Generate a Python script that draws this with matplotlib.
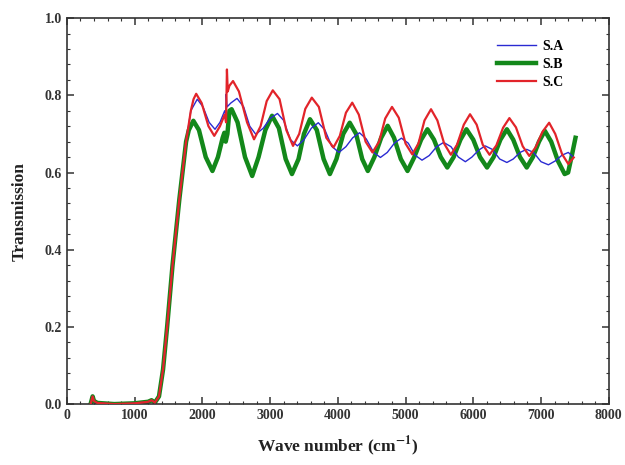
import matplotlib
matplotlib.use('Agg')
import matplotlib.pyplot as plt
from matplotlib.ticker import MultipleLocator

plt.rcParams['font.family'] = 'Liberation Serif'
plt.rcParams['font.weight'] = 'bold'
plt.rcParams['mathtext.fontset'] = 'stix'

## shared baseline + absorption edge (all three samples overlap here)
edge_x = [350, 380, 400, 450, 700, 1000, 1200, 1250, 1300, 1360, 1420, 1480, 1560, 1660, 1760]
edge_y = [0.0, 0.02, 0.008, 0.003, 0.0, 0.002, 0.006, 0.01, 0.004, 0.02, 0.09, 0.2, 0.36, 0.53, 0.68]

## S.A (blue)
sa_x = [1830, 1925, 2010, 2100, 2187, 2260, 2330, 2345, 2352, 2365, 2420, 2512, 2610, 2700, 2789,
        2900, 3000, 3109, 3200, 3300, 3403, 3500, 3610, 3712, 3810, 3910, 4016, 4120, 4220, 4320,
        4420, 4530, 4629, 4730, 4840, 4939, 5040, 5140, 5243, 5350, 5460, 5563, 5670, 5780, 5883,
        5980, 6080, 6176, 6280, 6390, 6496, 6590, 6690, 6789, 6890, 7000, 7109, 7210, 7310, 7403, 7483]
sa_y = [0.76, 0.790, 0.77, 0.73, 0.712, 0.73, 0.76, 0.75, 0.803, 0.77, 0.78, 0.792, 0.77, 0.72, 0.699,
        0.715, 0.74, 0.753, 0.735, 0.685, 0.669, 0.685, 0.715, 0.729, 0.71, 0.668, 0.652, 0.667, 0.69, 0.703,
        0.687, 0.652, 0.639, 0.652, 0.677, 0.689, 0.676, 0.645, 0.632, 0.644, 0.667, 0.678, 0.667, 0.64, 0.628,
        0.64, 0.658, 0.669, 0.66, 0.635, 0.626, 0.635, 0.652, 0.660, 0.652, 0.628, 0.620, 0.63, 0.645, 0.652, 0.639]

## S.B (green)
sb_x = [1800, 1867, 1950, 2050, 2149, 2230, 2300, 2325, 2345, 2370, 2400, 2432, 2520, 2630, 2736,
        2830, 2930, 3029, 3130, 3230, 3323, 3420, 3500, 3589, 3690, 3790, 3883, 3980, 4080, 4176,
        4270, 4360, 4443, 4540, 4640, 4736, 4830, 4930, 5029, 5130, 5230, 5323, 5420, 5520, 5616,
        5710, 5810, 5899, 6000, 6100, 6203, 6300, 6400, 6496, 6590, 6690, 6789, 6880, 6970, 7056,
        7150, 7250, 7349, 7400, 7450, 7509]
sb_y = [0.71, 0.734, 0.71, 0.64, 0.604, 0.64, 0.69, 0.703, 0.68, 0.70, 0.76, 0.764, 0.73, 0.64, 0.591,
        0.64, 0.71, 0.747, 0.715, 0.635, 0.596, 0.635, 0.70, 0.738, 0.71, 0.635, 0.596, 0.635, 0.70, 0.729,
        0.70, 0.635, 0.604, 0.64, 0.69, 0.721, 0.69, 0.635, 0.604, 0.64, 0.685, 0.712, 0.685, 0.64, 0.613,
        0.64, 0.685, 0.712, 0.685, 0.64, 0.613, 0.64, 0.685, 0.712, 0.685, 0.64, 0.613, 0.64, 0.68, 0.708,
        0.68, 0.63, 0.596, 0.60, 0.64, 0.69]

## S.C (red)
sc_x = [1830, 1870, 1909, 1990, 2090, 2176, 2260, 2330, 2350, 2363, 2375, 2400, 2453, 2540, 2660,
        2763, 2860, 2950, 3040, 3140, 3240, 3339, 3430, 3520, 3616, 3720, 3830, 3936, 4030, 4120,
        4213, 4310, 4410, 4512, 4610, 4700, 4800, 4900, 5000, 5099, 5190, 5280, 5376, 5470, 5570,
        5669, 5760, 5860, 5952, 6050, 6140, 6240, 6340, 6440, 6533, 6630, 6730, 6827, 6920, 7020,
        7120, 7210, 7310, 7403, 7440, 7483]
sc_y = [0.76, 0.79, 0.804, 0.78, 0.72, 0.695, 0.72, 0.75, 0.73, 0.867, 0.81, 0.825, 0.837, 0.81, 0.73,
        0.686, 0.72, 0.785, 0.813, 0.79, 0.71, 0.669, 0.70, 0.765, 0.794, 0.77, 0.69, 0.665, 0.695, 0.755,
        0.781, 0.75, 0.68, 0.652, 0.68, 0.74, 0.770, 0.742, 0.675, 0.647, 0.675, 0.735, 0.764, 0.735, 0.675,
        0.646, 0.672, 0.724, 0.751, 0.724, 0.672, 0.646, 0.67, 0.716, 0.741, 0.717, 0.668, 0.643, 0.665, 0.705,
        0.729, 0.70, 0.648, 0.622, 0.63, 0.639]

fig = plt.figure(figsize=(6.25, 4.65), dpi=100)
ax = fig.add_axes([0.107, 0.131, 0.867, 0.830])

ax.plot(edge_x + sb_x, edge_y + sb_y, color='#13881a', lw=3.2, label='S.B', zorder=2)
ax.plot(edge_x + sa_x, edge_y + sa_y, color='#2a2ad2', lw=1.0, label='S.A', zorder=3)
ax.plot(edge_x + sc_x, edge_y + sc_y, color='#e2242a', lw=1.6, label='S.C', zorder=4)

ax.set_xlim(0, 8000)
ax.set_ylim(0, 1.0)
ax.xaxis.set_major_locator(MultipleLocator(1000))
ax.xaxis.set_minor_locator(MultipleLocator(200))
ax.yaxis.set_major_locator(MultipleLocator(0.2))
ax.yaxis.set_minor_locator(MultipleLocator(0.04))
ax.tick_params(which='both', direction='in', top=True, right=True, colors='#333333',
               labelcolor='#333333', labelsize=10)
ax.tick_params(which='major', length=5, width=1.1)
ax.tick_params(which='minor', length=2.5, width=0.8)
for s in ax.spines.values():
    s.set_linewidth(1.2)
    s.set_color('#333333')

ax.set_xlabel(r'Wave number (cm$^{\mathbf{-1}}$)', fontsize=12.5, fontweight='bold',
              color='#222222', labelpad=9)
ax.set_ylabel('Transmission', fontsize=12.5, fontweight='bold', color='#222222', labelpad=12)

h, l = ax.get_legend_handles_labels()
order = [1, 0, 2]
ax.legend([h[i] for i in order], [l[i] for i in order], loc='upper right',
          bbox_to_anchor=(0.94, 0.975), frameon=False, fontsize=10, handlelength=2.8,
          labelspacing=0.35, handletextpad=0.5)

fig.savefig('out.png', dpi=100)
